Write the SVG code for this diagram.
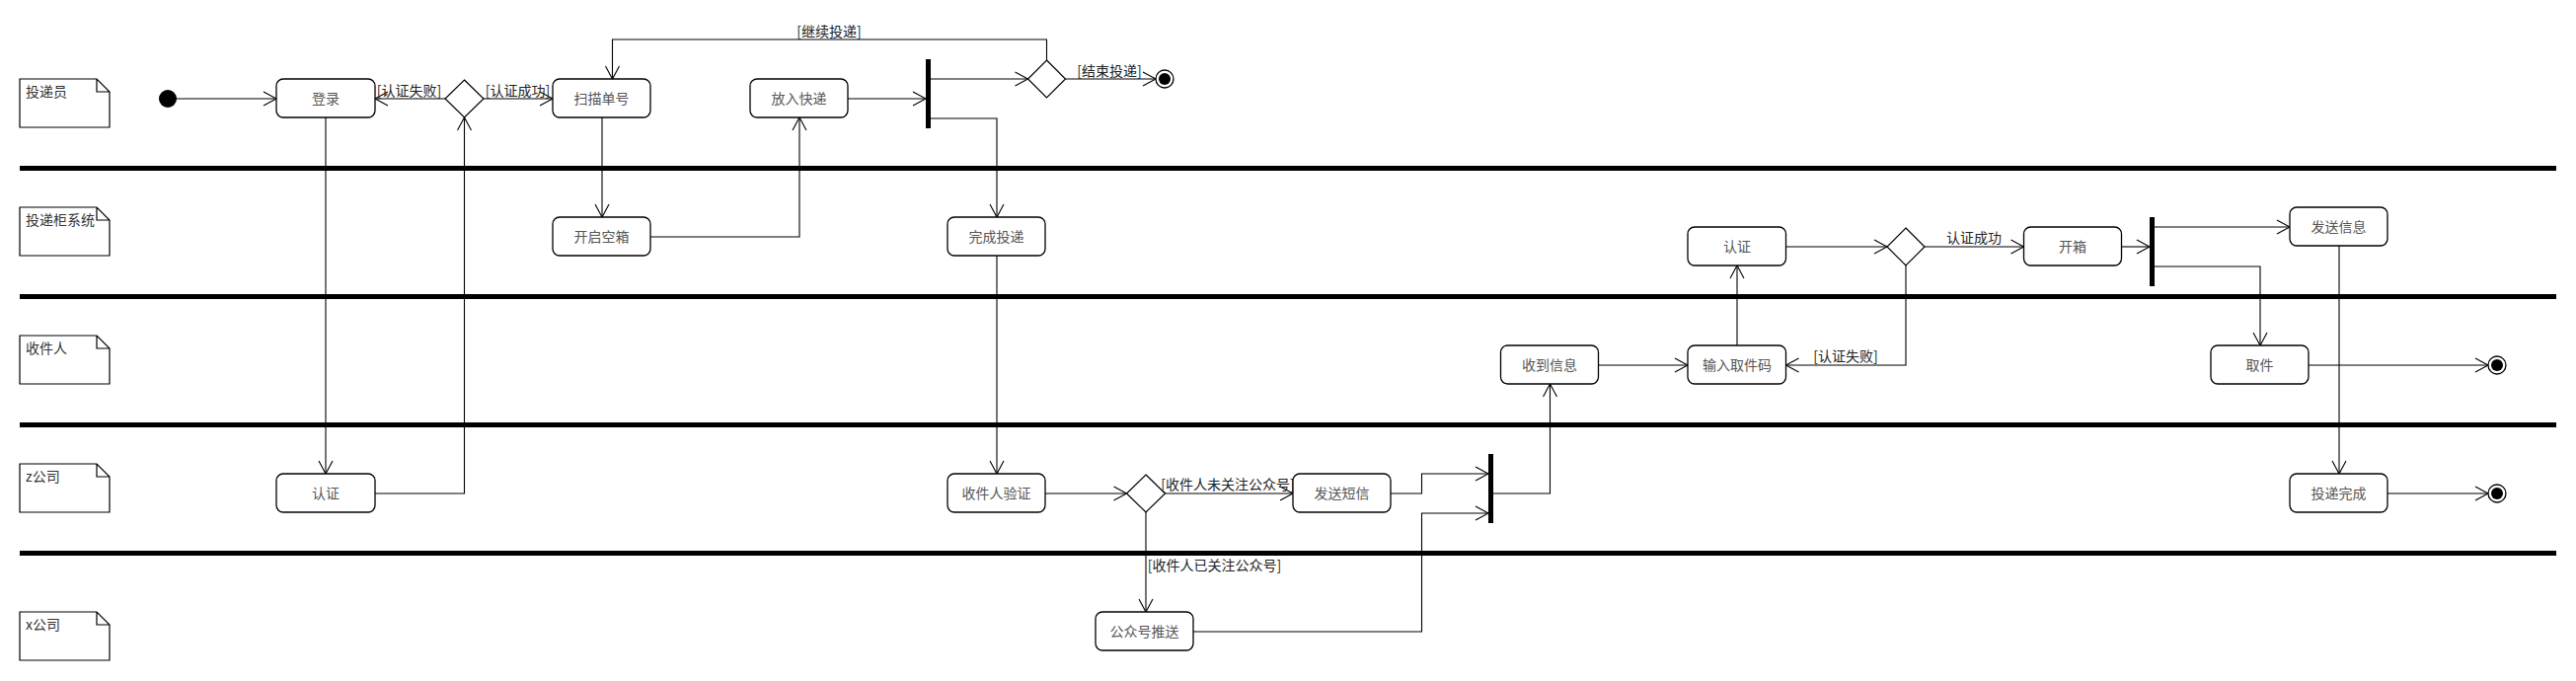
<svg xmlns="http://www.w3.org/2000/svg" width="2610" height="690" viewBox="0 0 2610 690">
<style>
text{font-family:"Noto Sans CJK SC","Liberation Sans",sans-serif;font-size:14px}
.nt{fill:#555;text-anchor:middle}
.gd{fill:#222;text-anchor:middle}
.lb{fill:#333}
.box{fill:#fff;stroke:#000;stroke-width:1.3}
.dia{fill:#fff;stroke:#000;stroke-width:1.2}
.note{fill:#fff;stroke:#000;stroke-width:1.2}
.c{fill:none;stroke:#000;stroke-width:1.1;marker-end:url(#arr)}
.sep{fill:#000}
.bar{fill:#000}
</style>
<defs>
<marker id="arr" markerUnits="userSpaceOnUse" markerWidth="16" markerHeight="16" viewBox="0 0 16 16" refX="14" refY="8" orient="auto">
<path d="M1,1 L14,8 L1,15" fill="none" stroke="#000" stroke-width="1.1"/>
</marker>
</defs>
<rect width="2610" height="690" fill="#fff"/>
<g id="lanes">
<rect class="sep" x="20" y="168" width="2570" height="5"/>
<rect class="sep" x="20" y="298" width="2570" height="5"/>
<rect class="sep" x="20" y="428" width="2570" height="5"/>
<rect class="sep" x="20" y="558" width="2570" height="5"/>
</g>
<g id="lane1">
<path class="note" d="M20,80 H98 L111,93 V129 H20 Z M98,80 V93 H111"/>
<text class="lb" x="26" y="98">投递员</text>
</g>
<g id="lane2">
<path class="note" d="M20,210 H98 L111,223 V259 H20 Z M98,210 V223 H111"/>
<text class="lb" x="26" y="228">投递柜系统</text>
</g>
<g id="lane3">
<path class="note" d="M20,340 H98 L111,353 V389 H20 Z M98,340 V353 H111"/>
<text class="lb" x="26" y="358">收件人</text>
</g>
<g id="lane4">
<path class="note" d="M20,470 H98 L111,483 V519 H20 Z M98,470 V483 H111"/>
<text class="lb" x="26" y="488">z公司</text>
</g>
<g id="lane5">
<path class="note" d="M20,620 H98 L111,633 V669 H20 Z M98,620 V633 H111"/>
<text class="lb" x="26" y="638">x公司</text>
</g>
<g id="connectors">
<path class="c" d="M179,100 H280"/>
<path class="c" d="M451,100 H380"/>
<path class="c" d="M490,100 H560"/>
<path class="c" d="M330,119 V480"/>
<path class="c" d="M380,500 H470.5 V119"/>
<path class="c" d="M610,119 V220"/>
<path class="c" d="M659,240 H810 V119"/>
<path class="c" d="M859,100 H938"/>
<path class="c" d="M943,80 H1041.5"/>
<path class="c" d="M943,120 H1010 V220"/>
<path class="c" d="M1060.5,61 V40 H620.5 V80"/>
<path class="c" d="M1079.5,80 H1171"/>
<path class="c" d="M1010,259 V480"/>
<path class="c" d="M1059,500 H1141.5"/>
<path class="c" d="M1180.5,500 H1310"/>
<path class="c" d="M1161,519 V620"/>
<path class="c" d="M1409,500 H1440.5 V480 H1508"/>
<path class="c" d="M1209,640 H1440.5 V520 H1508"/>
<path class="c" d="M1513,500 H1570.5 V389"/>
<path class="c" d="M1619,370 H1710"/>
<path class="c" d="M1760,350 V269"/>
<path class="c" d="M1809.5,250 H1912"/>
<path class="c" d="M1931,269 V370 H1809.5"/>
<path class="c" d="M1950,250 H2050.5"/>
<path class="c" d="M2149.5,250 H2178"/>
<path class="c" d="M2183,230 H2320"/>
<path class="c" d="M2183,270 H2290 V350"/>
<path class="c" d="M2370,249 V480"/>
<path class="c" d="M2339,370 H2521"/>
<path class="c" d="M2419,500 H2521"/>
<text class="gd" x="414.5" y="97">[认证失败]</text>
<text class="gd" x="524.5" y="97">[认证成功]</text>
<text class="gd" x="840" y="37">[继续投递]</text>
<text class="gd" x="1124" y="77">[结束投递]</text>
<text class="gd" x="2000" y="246">认证成功</text>
<text class="gd" x="1870" y="366">[认证失败]</text>
<text class="gd" x="1244" y="496">[收件人未关注公众号]</text>
<text class="gd" x="1230.5" y="578">[收件人已关注公众号]</text>
</g>
<g id="start"><circle cx="170" cy="100" r="9" fill="#000"/></g>
<g id="login"><rect class="box" x="280" y="80" width="100" height="39" rx="7"/><text class="nt" x="330" y="105">登录</text></g>
<g id="dec1"><path class="dia" d="M470.5,81 L490,100 L470.5,119 L451,100 Z"/></g>
<g id="scan"><rect class="box" x="560" y="80" width="99" height="39" rx="7"/><text class="nt" x="609.5" y="105">扫描单号</text></g>
<g id="put"><rect class="box" x="760" y="80" width="99" height="39" rx="7"/><text class="nt" x="809.5" y="105">放入快递</text></g>
<g id="fork1"><rect class="bar" x="938" y="60" width="5" height="70"/></g>
<g id="dec2"><path class="dia" d="M1060.5,61 L1079.5,80 L1060.5,99 L1041.5,80 Z"/></g>
<g id="end1"><circle cx="1180" cy="80" r="9" fill="#fff" stroke="#000" stroke-width="1.3"/><circle cx="1180" cy="80" r="6" fill="#000"/></g>
<g id="openbox"><rect class="box" x="560" y="220" width="99" height="39" rx="7"/><text class="nt" x="609.5" y="245">开启空箱</text></g>
<g id="done1"><rect class="box" x="960" y="220" width="99" height="39" rx="7"/><text class="nt" x="1009.5" y="245">完成投递</text></g>
<g id="auth2"><rect class="box" x="1710" y="230" width="99.5" height="39" rx="7"/><text class="nt" x="1760" y="255">认证</text></g>
<g id="dec3"><path class="dia" d="M1931,231 L1950,250 L1931,269 L1912,250 Z"/></g>
<g id="openbox2"><rect class="box" x="2050.5" y="230" width="99" height="39" rx="7"/><text class="nt" x="2100" y="255">开箱</text></g>
<g id="fork2"><rect class="bar" x="2178" y="220" width="5" height="70"/></g>
<g id="sendinfo"><rect class="box" x="2320" y="210" width="99" height="39" rx="7"/><text class="nt" x="2369.5" y="235">发送信息</text></g>
<g id="recv"><rect class="box" x="1520.5" y="350" width="99" height="39" rx="7"/><text class="nt" x="1570" y="375">收到信息</text></g>
<g id="input"><rect class="box" x="1710" y="350" width="99.5" height="39" rx="7"/><text class="nt" x="1760" y="375">输入取件码</text></g>
<g id="pick"><rect class="box" x="2240" y="350" width="99" height="39" rx="7"/><text class="nt" x="2289.5" y="375">取件</text></g>
<g id="end2"><circle cx="2530" cy="370" r="9" fill="#fff" stroke="#000" stroke-width="1.3"/><circle cx="2530" cy="370" r="6" fill="#000"/></g>
<g id="auth1"><rect class="box" x="280" y="480" width="100" height="39" rx="7"/><text class="nt" x="330" y="505">认证</text></g>
<g id="verify"><rect class="box" x="960" y="480" width="99" height="39" rx="7"/><text class="nt" x="1009.5" y="505">收件人验证</text></g>
<g id="dec4"><path class="dia" d="M1161,481 L1180.5,500 L1161,519 L1141.5,500 Z"/></g>
<g id="sms"><rect class="box" x="1310" y="480" width="99" height="39" rx="7"/><text class="nt" x="1359.5" y="505">发送短信</text></g>
<g id="join"><rect class="bar" x="1508" y="460" width="5" height="70"/></g>
<g id="finish"><rect class="box" x="2320" y="480" width="99" height="39" rx="7"/><text class="nt" x="2369.5" y="505">投递完成</text></g>
<g id="end3"><circle cx="2530" cy="500" r="9" fill="#fff" stroke="#000" stroke-width="1.3"/><circle cx="2530" cy="500" r="6" fill="#000"/></g>
<g id="push"><rect class="box" x="1110" y="620" width="99" height="39" rx="7"/><text class="nt" x="1159.5" y="645">公众号推送</text></g>
</svg>
